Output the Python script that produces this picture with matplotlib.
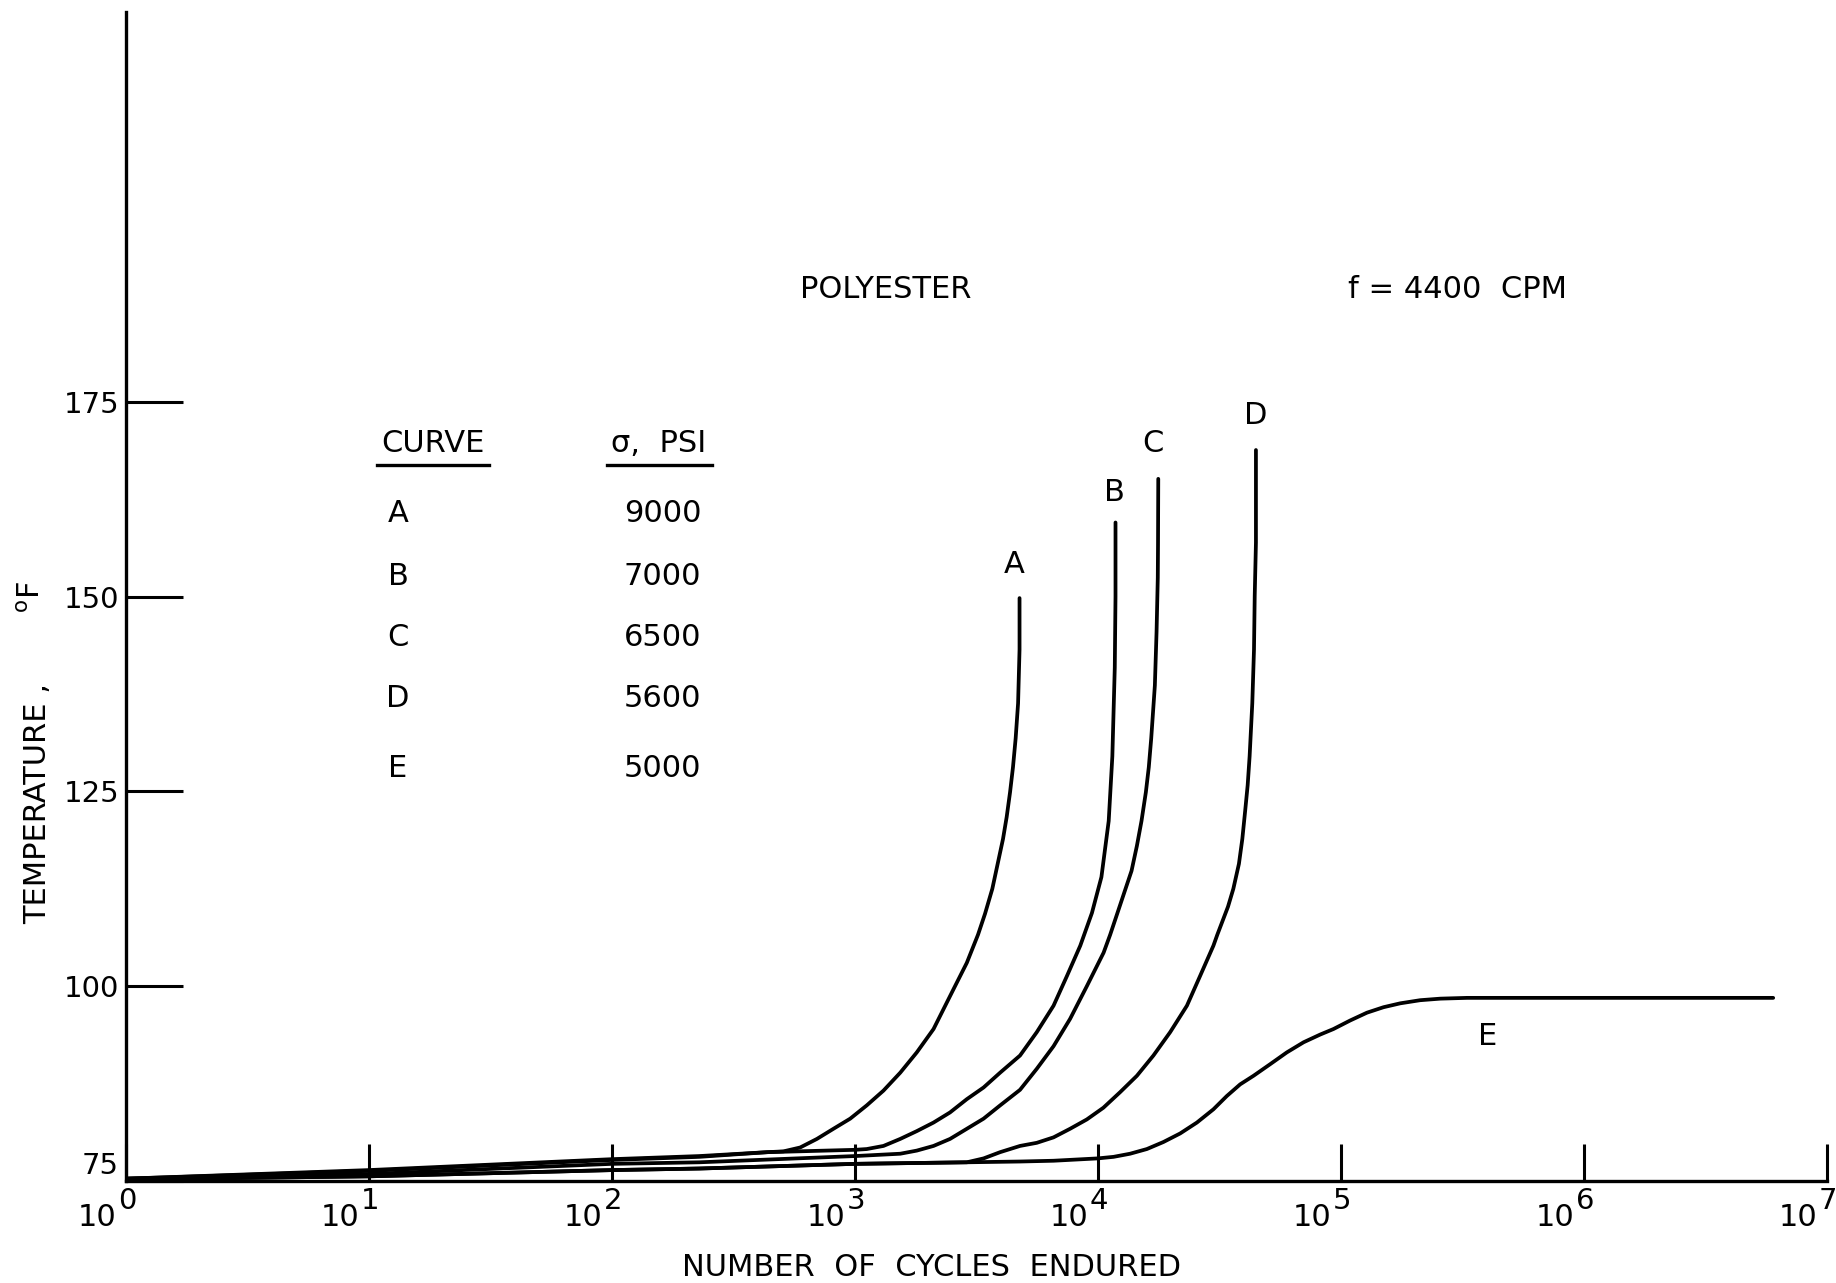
import numpy as np
import matplotlib
matplotlib.use("Agg")
import matplotlib.pyplot as plt
from matplotlib.lines import Line2D
from matplotlib.transforms import ScaledTranslation, blended_transform_factory

# ---- data (log10 of cycles endured, temperature in deg F) ----
curve_names = ["A", "B", "C", "D", "E"]
stress_psi = ["9000", "7000", "6500", "5600", "5000"]

A_log = [0, 1, 2, 2.36, 2.64, 2.706, 2.775, 2.844, 2.912, 2.981, 3.049, 3.118, 3.187, 3.255,
         3.324, 3.406, 3.461, 3.507, 3.536, 3.566, 3.588, 3.610, 3.625, 3.639, 3.651, 3.662,
         3.672, 3.678, 3.678]
A_T = [75.3, 76.4, 77.8, 78.2, 78.7, 78.8, 79.3, 80.4, 81.7, 83.0, 84.7, 86.6, 88.9, 91.5,
       94.5, 99.6, 103.0, 106.6, 109.3, 112.5, 115.7, 118.9, 121.7, 124.9, 128.1, 131.8,
       136.3, 143.2, 149.8]

B_log = [0, 1, 2, 2.36, 2.64, 3.0, 3.049, 3.118, 3.187, 3.255, 3.324, 3.392, 3.461, 3.530,
         3.598, 3.680, 3.749, 3.818, 3.873, 3.928, 3.976, 4.015, 4.045, 4.060, 4.070, 4.073,
         4.073]
B_T = [75.3, 76.3, 77.7, 78.1, 78.7, 79.0, 79.1, 79.5, 80.4, 81.4, 82.5, 83.8, 85.5, 87.0,
       88.9, 91.1, 94.1, 97.5, 101.3, 105.2, 109.4, 114.0, 121.2, 129.5, 140.9, 150.0, 159.5]

C_log = [0, 1, 2, 2.36, 3.0, 3.187, 3.255, 3.324, 3.392, 3.461, 3.530, 3.598, 3.680, 3.749,
         3.818, 3.886, 3.955, 4.024, 4.051, 4.080, 4.110, 4.139, 4.161, 4.180, 4.198, 4.210,
         4.220, 4.235, 4.242, 4.247, 4.248, 4.249]
C_T = [75.3, 75.9, 77.2, 77.4, 78.2, 78.5, 78.9, 79.5, 80.4, 81.7, 83.0, 84.7, 86.7, 89.4,
       92.3, 95.8, 100.0, 104.3, 106.6, 109.3, 112.1, 114.8, 118.0, 121.2, 124.9, 128.1,
       131.8, 138.6, 145.5, 152.4, 156.9, 165.1]

D_log = [0, 1, 2, 2.36, 3.0, 3.461, 3.530, 3.598, 3.680, 3.749, 3.818, 3.886, 3.955, 4.023,
         4.092, 4.161, 4.229, 4.298, 4.367, 4.421, 4.476, 4.492, 4.536, 4.558, 4.581, 4.595,
         4.607, 4.617, 4.625, 4.636, 4.643, 4.646, 4.651, 4.651]
D_T = [75.2, 75.6, 76.4, 76.6, 77.2, 77.4, 77.9, 78.7, 79.5, 79.9, 80.6, 81.7, 82.9, 84.4,
       86.4, 88.5, 91.1, 94.1, 97.5, 101.3, 105.2, 106.6, 110.2, 112.5, 115.7, 118.9,
       122.6, 125.8, 129.5, 136.3, 143.2, 150.1, 156.9, 168.8]

E_log = [0, 1, 2, 2.36, 3.0, 3.461, 3.680, 3.818, 4.0, 4.065, 4.133, 4.202, 4.270, 4.339,
         4.408, 4.476, 4.531, 4.586, 4.641, 4.710, 4.778, 4.847, 4.916, 4.970, 5.039, 5.108,
         5.176, 5.245, 5.327, 5.41, 5.52, 6.0, 6.5, 6.78]
E_T = [75.2, 75.6, 76.4, 76.6, 77.2, 77.4, 77.5, 77.6, 77.9, 78.1, 78.5, 79.1, 80.0, 81.1,
       82.5, 84.2, 85.9, 87.4, 88.5, 90.0, 91.5, 92.8, 93.8, 94.5, 95.6, 96.6, 97.3, 97.8,
       98.2, 98.4, 98.5, 98.5, 98.5, 98.5]

x_tick_exps = [0, 1, 2, 3, 4, 5, 6, 7]
y_ticks = [75, 100, 125, 150, 175]

plt.rcParams["font.family"] = ["DejaVu Sans"]
plt.rcParams["mathtext.fontset"] = "dejavusans"

fig = plt.figure(figsize=(18.36, 12.83), dpi=100)
ax = fig.add_axes([0.0686, 0.0795, 0.9263, 0.9111])

series = [(A_log, A_T), (B_log, B_T), (C_log, C_T), (D_log, D_T), (E_log, E_T)]
for lg, T in series:
    ax.plot(10 ** np.array(lg), T, color="black", lw=2.7, solid_capstyle="round",
            solid_joinstyle="round")

ax.set_xscale("log")
ax.set_xlim(1, 1e7)
ax.set_ylim(75, 225)
for s in ["top", "right"]:
    ax.spines[s].set_visible(False)
for s in ["left", "bottom"]:
    ax.spines[s].set_linewidth(2.4)

ax.set_xticks([10.0 ** e for e in x_tick_exps])
ax.xaxis.set_minor_locator(matplotlib.ticker.NullLocator())
ax.set_yticks(y_ticks)
ax.set_yticklabels([str(v) for v in y_ticks])
ax.tick_params(axis="x", direction="in", length=27, width=2.2, labelbottom=False)
ax.tick_params(axis="y", direction="in", length=41, width=2.2, pad=5, labelsize=21)
# the "75" label sits above the x axis in the original
lab75 = ax.yaxis.get_major_ticks()[0].label1
lab75.set_transform(lab75.get_transform() + ScaledTranslation(0, 13 / 72, fig.dpi_scale_trans))

# x tick labels drawn as "10" with a large exponent, like the hand lettering
btr = blended_transform_factory(ax.transData, ax.transAxes)
for e in x_tick_exps:
    base_off = ScaledTranslation(-6.5 / 72, -32.5 / 72, fig.dpi_scale_trans)
    exp_off = ScaledTranslation(1.0 / 72, -20.5 / 72, fig.dpi_scale_trans)
    ax.text(10.0 ** e, 0, "10", transform=btr + base_off, ha="right", va="baseline",
            fontsize=22, clip_on=False)
    ax.text(10.0 ** e, 0, str(e), transform=btr + exp_off, ha="center", va="baseline",
            fontsize=21, clip_on=False)

fs = 22
ax.text(10 ** 3.129, 189.4, "POLYESTER", ha="center", va="center", fontsize=fs)
ax.text(10 ** 5.482, 189.4, "f = 4400  CPM", ha="center", va="center", fontsize=fs)
t1 = ax.text(10 ** 1.263, 169.6, "CURVE", ha="center", va="center", fontsize=fs)
t2 = ax.text(10 ** 2.194, 169.6, "σ,  PSI", ha="center", va="center", fontsize=fs)

rows_T = [160.6, 152.6, 144.8, 136.9, 127.9]
for name, sig, yT in zip(curve_names, stress_psi, rows_T):
    ax.text(10 ** 1.12, yT, name, ha="center", va="center", fontsize=fs)
    ax.text(10 ** 2.208, yT, sig, ha="center", va="center", fontsize=fs)

label_pos = [(3.655, 154.1), (4.069, 163.3), (4.229, 169.6), (4.648, 173.2), (5.603, 93.5)]
for name, (lx, ly) in zip(curve_names, label_pos):
    ax.text(10 ** lx, ly, name, ha="center", va="center", fontsize=fs)

fig.text(931 / 1836, 1 - 1267 / 1283, "NUMBER  OF  CYCLES  ENDURED",
         ha="center", va="center", fontsize=fs)
fig.text(38 / 1836, 1 - 803 / 1283, "TEMPERATURE ,", rotation=90,
         ha="center", va="center", fontsize=fs)
fig.text(31 / 1836, 1 - 597 / 1283, r"$^{\mathrm{o}}$F", rotation=90,
         ha="center", va="center", fontsize=fs)

fig.canvas.draw()
r = fig.canvas.get_renderer()
inv = fig.transFigure.inverted()
for t in (t1, t2):
    bb = t.get_window_extent(r)
    x0, y0 = inv.transform((bb.x0 - 4, bb.y0 - 7))
    x1, _ = inv.transform((bb.x1 + 5, bb.y0 - 7))
    fig.add_artist(Line2D([x0, x1], [y0, y0], transform=fig.transFigure,
                          color="black", lw=2.4))

fig.savefig("out.png", dpi=100, facecolor="white")
